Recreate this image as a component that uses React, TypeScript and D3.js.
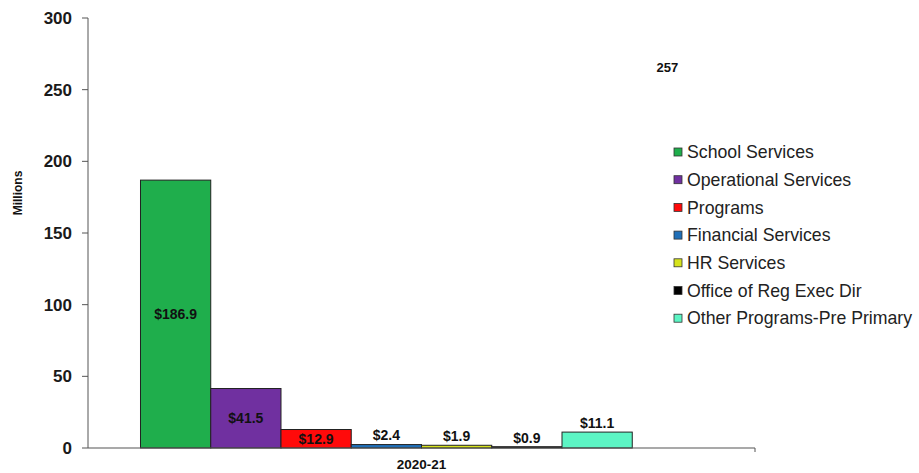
import React from "react";
import * as d3 from "d3";

const categories = ["2020-21"];
const seriesNames = [
  "School Services",
  "Operational Services",
  "Programs",
  "Financial Services",
  "HR Services",
  "Office of Reg Exec Dir",
  "Other Programs-Pre Primary",
];
const seriesValues = [186.9, 41.5, 12.9, 2.4, 1.9, 0.9, 11.1];
const seriesLabels = ["$186.9", "$41.5", "$12.9", "$2.4", "$1.9", "$0.9", "$11.1"];
const seriesColors = ["#1fae4c", "#7030a0", "#ff0a0a", "#1f6fb8", "#d6e31c", "#000000", "#5cf5c4"];
const totalLabel = "257";
const totalValue = 257;
const yTicks = [0, 50, 100, 150, 200, 250, 300];

const W = 919;
const H = 473;
const M = { left: 88, right: 164, top: 18, bottom: 25 };

export default function App() {
  const y = d3.scaleLinear().domain([0, 300]).range([H - M.bottom, M.top]);
  const x0 = d3
    .scaleBand<string>()
    .domain(categories)
    .range([M.left, W - M.right])
    .paddingInner(0)
    .paddingOuter(0.0934);
  const keys = [...seriesNames, "Total"];
  const x1 = d3.scaleBand<string>().domain(keys).range([0, x0.bandwidth()]).padding(0);
  const font = "Arial, 'Liberation Sans', sans-serif";
  const y0 = y(0);

  return (
    <svg
      width={W}
      height={H}
      style={{ position: "absolute", left: 0, top: 0, background: "#fff" }}
      fontFamily={font}
    >
      {/* y axis */}
      <line x1={M.left} x2={M.left} y1={y(300)} y2={y0} stroke="#555" strokeWidth={1} />
      {yTicks.map((t) => (
        <g key={t}>
          <line x1={M.left - 6} x2={M.left} y1={y(t)} y2={y(t)} stroke="#555" />
          <text x={72} y={y(t)} dy="0.35em" textAnchor="end" fontSize={17} fontWeight="bold" fill="#1a1a1a">
            {t}
          </text>
        </g>
      ))}
      <text
        transform={`translate(22,${193}) rotate(-90)`}
        textAnchor="middle"
        fontSize={12}
        fontWeight="bold"
        fill="#111"
      >
        Millions
      </text>

      {categories.map((c) => (
        <g key={c} transform={`translate(${x0(c)},0)`}>
          {seriesValues.map((v, i) => {
            const bx = x1(seriesNames[i])!;
            const bw = x1.bandwidth();
            const top = y(v);
            const inside = v >= 12;
            return (
              <g key={i}>
                <rect
                  x={bx}
                  y={top}
                  width={bw}
                  height={y0 - top}
                  fill={seriesColors[i]}
                  stroke="#222"
                  strokeWidth={1}
                />
                <text
                  x={bx + bw / 2}
                  y={inside ? (top + y0) / 2 : top - 9}
                  dy="0.35em"
                  textAnchor="middle"
                  fontSize={14}
                  fontWeight="bold"
                  fill="#111"
                >
                  {seriesLabels[i]}
                </text>
              </g>
            );
          })}
          <text
            x={x1("Total")! + x1.bandwidth() / 2}
            y={y(totalValue) - 12}
            dy="0.35em"
            textAnchor="middle"
            fontSize={13}
            fontWeight="bold"
            fill="#111"
          >
            {totalLabel}
          </text>
        </g>
      ))}

      {/* x axis */}
      <line x1={M.left} x2={W - M.right} y1={y0} y2={y0} stroke="#555" strokeWidth={1.2} />
      <line x1={W - M.right} x2={W - M.right} y1={y0} y2={y0 + 4} stroke="#555" />
      {categories.map((c) => (
        <text
          key={c}
          x={x0(c)! + x0.bandwidth() / 2}
          y={464}
          dy="0.35em"
          textAnchor="middle"
          fontSize={13.5}
          fontWeight="bold"
          fill="#111"
        >
          {c}
        </text>
      ))}

      {/* legend */}
      {seriesNames.map((n, i) => {
        const ly = 152 + i * 27.7;
        return (
          <g key={n}>
            <rect x={674} y={ly - 4} width={8} height={8} fill={seriesColors[i]} stroke="#333" strokeWidth={0.8} />
            <text x={687} y={ly} dy="0.35em" fontSize={17.7} fill="#222">
              {n}
            </text>
          </g>
        );
      })}
    </svg>
  );
}
